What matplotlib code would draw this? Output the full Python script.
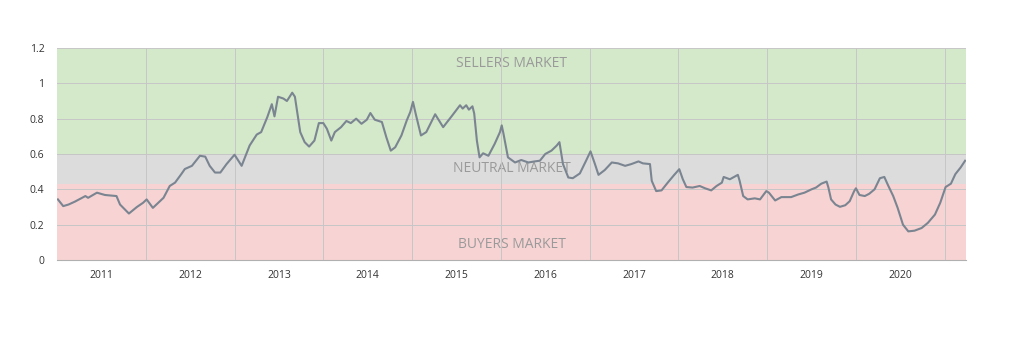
import matplotlib
matplotlib.use("Agg")
import matplotlib.pyplot as plt
import numpy as np

# --- data (decimal year, sales-to-listings ratio) ---
years = [2011.01, 2011.07, 2011.13, 2011.20, 2011.32, 2011.35, 2011.45, 2011.54, 2011.67, 2011.71,
         2011.81, 2011.90, 2011.97, 2012.01, 2012.08, 2012.20, 2012.27, 2012.33, 2012.40, 2012.44,
         2012.52, 2012.61, 2012.67, 2012.72, 2012.78, 2012.84, 2012.91, 2013.00, 2013.08, 2013.17,
         2013.25, 2013.30, 2013.37, 2013.42, 2013.45, 2013.49, 2013.55, 2013.59, 2013.65, 2013.68,
         2013.74, 2013.79, 2013.84, 2013.90, 2013.95, 2014.00, 2014.04, 2014.09, 2014.13, 2014.20,
         2014.26, 2014.31, 2014.37, 2014.43, 2014.49, 2014.53, 2014.58, 2014.66, 2014.71, 2014.76,
         2014.81, 2014.88, 2014.94, 2014.98, 2015.01, 2015.04, 2015.10, 2015.16, 2015.26, 2015.35,
         2015.44, 2015.54, 2015.57, 2015.61, 2015.64, 2015.68, 2015.70, 2015.73, 2015.76, 2015.80,
         2015.86, 2015.93, 2015.99, 2016.01, 2016.03, 2016.08, 2016.16, 2016.23, 2016.31, 2016.38,
         2016.44, 2016.50, 2016.57, 2016.63, 2016.66, 2016.70, 2016.76, 2016.81, 2016.89, 2016.96,
         2017.01, 2017.06, 2017.10, 2017.17, 2017.25, 2017.32, 2017.40, 2017.47, 2017.55, 2017.60,
         2017.68, 2017.70, 2017.75, 2017.81, 2017.88, 2017.95, 2018.01, 2018.05, 2018.09, 2018.16,
         2018.24, 2018.30, 2018.37, 2018.43, 2018.49, 2018.51, 2018.58, 2018.67, 2018.69, 2018.73,
         2018.78, 2018.86, 2018.92, 2018.99, 2019.02, 2019.09, 2019.16, 2019.27, 2019.35, 2019.42,
         2019.50, 2019.55, 2019.61, 2019.67, 2019.69, 2019.72, 2019.77, 2019.82, 2019.88, 2019.93,
         2019.98, 2020.00, 2020.04, 2020.10, 2020.15, 2020.21, 2020.27, 2020.32, 2020.36, 2020.42,
         2020.47, 2020.53, 2020.59, 2020.66, 2020.74, 2020.81, 2020.89, 2020.95, 2021.01, 2021.07,
         2021.12, 2021.18, 2021.23]
ratio = [0.343, 0.305, 0.314, 0.330, 0.362, 0.352, 0.381, 0.368, 0.362, 0.314,
         0.263, 0.300, 0.324, 0.343, 0.295, 0.352, 0.419, 0.438, 0.486, 0.515,
         0.533, 0.590, 0.585, 0.533, 0.495, 0.495, 0.543, 0.596, 0.533, 0.648,
         0.710, 0.724, 0.810, 0.882, 0.813, 0.924, 0.914, 0.900, 0.947, 0.924,
         0.724, 0.667, 0.642, 0.676, 0.775, 0.775, 0.743, 0.676, 0.724, 0.752,
         0.787, 0.775, 0.800, 0.771, 0.794, 0.832, 0.794, 0.781, 0.695, 0.619,
         0.638, 0.705, 0.790, 0.838, 0.895, 0.829, 0.705, 0.724, 0.825, 0.752,
         0.810, 0.876, 0.857, 0.876, 0.851, 0.870, 0.829, 0.676, 0.581, 0.604,
         0.590, 0.657, 0.724, 0.762, 0.714, 0.581, 0.552, 0.566, 0.552, 0.558,
         0.562, 0.600, 0.619, 0.648, 0.667, 0.543, 0.467, 0.463, 0.490, 0.562,
         0.615, 0.543, 0.482, 0.509, 0.552, 0.547, 0.533, 0.543, 0.558, 0.547,
         0.543, 0.448, 0.390, 0.394, 0.438, 0.480, 0.514, 0.457, 0.413, 0.410,
         0.419, 0.406, 0.394, 0.419, 0.438, 0.470, 0.457, 0.482, 0.448, 0.362,
         0.343, 0.349, 0.343, 0.390, 0.381, 0.337, 0.356, 0.356, 0.371, 0.381,
         0.400, 0.410, 0.432, 0.444, 0.410, 0.343, 0.314, 0.301, 0.310, 0.333,
         0.390, 0.406, 0.368, 0.362, 0.375, 0.400, 0.463, 0.470, 0.425, 0.362,
         0.295, 0.200, 0.162, 0.166, 0.181, 0.210, 0.257, 0.324, 0.413, 0.432,
         0.486, 0.524, 0.562]

year_labels = ["2011", "2012", "2013", "2014", "2015", "2016", "2017", "2018", "2019", "2020"]
y_ticks = [0, 0.2, 0.4, 0.6, 0.8, 1.0, 1.2]
y_tick_labels = ["0", "0.2", "0.4", "0.6", "0.8", "1", "1.2"]
bands = [(0.0, 0.43, "#f7d3d3", "BUYERS MARKET", 0.085),
         (0.43, 0.60, "#dcdcdc", "NEUTRAL MARKET", 0.52),
         (0.60, 1.20, "#d4e8ca", "SELLERS MARKET", 1.115)]

plt.rcParams['font.family'] = ['Open Sans', 'DejaVu Sans']

fig = plt.figure(figsize=(10.14, 3.54), dpi=100)
ax = fig.add_axes([57 / 1014, 1 - 260 / 354, (966 - 57) / 1014, (260 - 48) / 354])

x0, x1 = 2011.0, 2021.24
for lo, hi, col, label, ty in bands:
    ax.axhspan(lo, hi, color=col, zorder=0, lw=0)
    ax.text(0.5, ty, label, transform=ax.get_yaxis_transform(), ha="center", va="center",
            fontsize=10, color="#9a9a9a", zorder=1)

ax.plot(years, ratio, color="#7a8591", lw=1.5, zorder=3, solid_joinstyle="round")

ax.set_xlim(x0, x1)
ax.set_ylim(0, 1.2)

year_starts = list(range(2012, 2022))
ax.set_xticks(year_starts)
ax.set_xticklabels([])
ax.set_xticks([2011.5 + i for i in range(len(year_labels))], minor=True)
ax.set_xticklabels(year_labels, minor=True)
ax.tick_params(axis="x", which="both", length=0, labelsize=7.5, colors="#333333", pad=7)
ax.set_yticks(y_ticks)
ax.set_yticklabels(y_tick_labels)
ax.tick_params(axis="y", length=0, labelsize=7.5, colors="#333333", pad=9)

ax.grid(True, which="major", color="#c6c6c6", lw=0.7, zorder=2)
ax.set_axisbelow(False)
for g in ax.get_xgridlines() + ax.get_ygridlines():
    g.set_zorder(2)

for s in ["top", "right", "left"]:
    ax.spines[s].set_visible(False)
ax.spines["bottom"].set_color("#b0b0b0")
ax.spines["bottom"].set_linewidth(0.8)

fig.savefig("out.png", dpi=100, facecolor="white")
